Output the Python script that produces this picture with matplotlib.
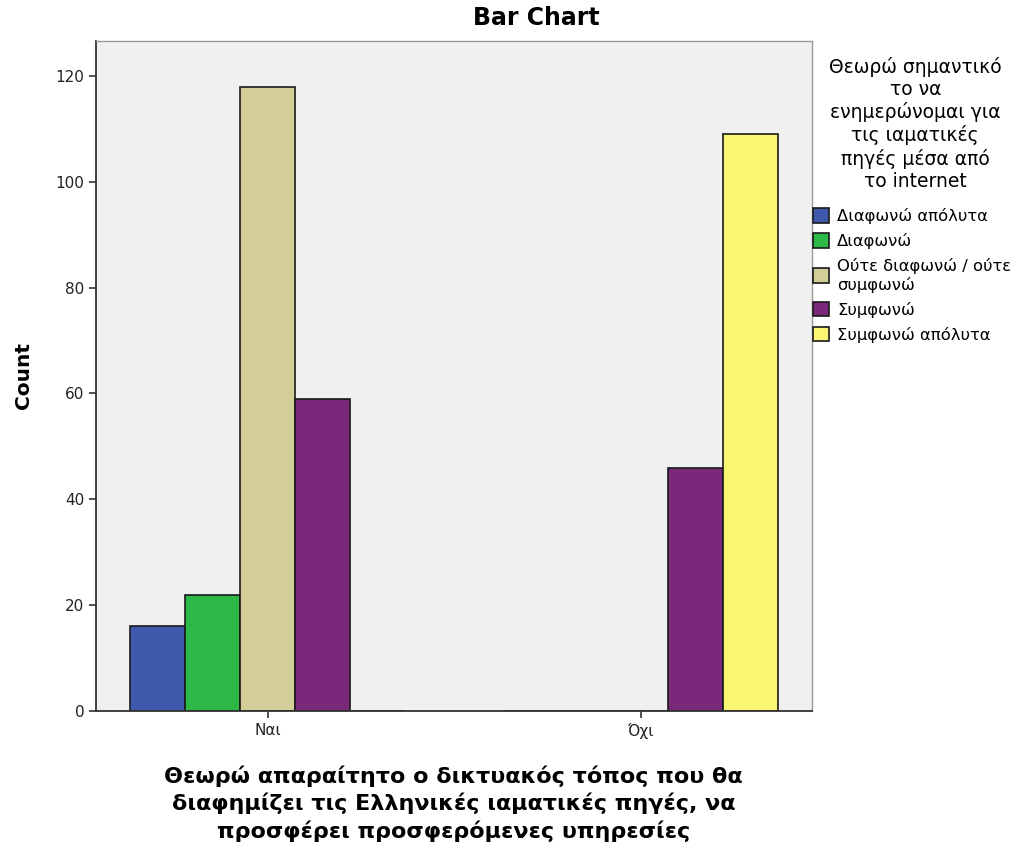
import numpy as np
import matplotlib.pyplot as plt
from matplotlib.patches import Patch

plt.rcParams['font.family'] = ['DejaVu Sans']

# categories on the x axis
groups = ['Ναι', 'Όχι']
# legend categories (one bar per category inside each group)
answers = ['Διαφωνώ απόλυτα', 'Διαφωνώ', 'Ούτε διαφωνώ / ούτε\nσυμφωνώ',
           'Συμφωνώ', 'Συμφωνώ απόλυτα']
colors = ['#3E58AC', '#2EB848', '#D3CE97', '#7A287A', '#F9F671']
# counts per answer, for [Ναι, Όχι]
diafono_apoluta = [16, 0]
diafono = [22, 0]
oute = [118, 0]
symfono = [59, 46]
symfono_apoluta = [0, 109]
counts = [diafono_apoluta, diafono, oute, symfono, symfono_apoluta]

fig = plt.figure(figsize=(10.17, 8.47), dpi=100)
ax = fig.add_axes([0.0944, 0.1606, 0.7036, 0.791])
ax.set_facecolor('#F0F0F0')

index = np.arange(len(groups))
bar_width = 0.1475
for i, (vals, col) in enumerate(zip(counts, colors)):
    x = index + (i - 2) * bar_width
    ax.bar(x, vals, bar_width, color=col, edgecolor='#1a1a1a', linewidth=1.2)

ax.set_xlim(-0.461, 1.458)
ax.set_ylim(0, 126.6)
ax.set_yticks(np.arange(0, 121, 20))
ax.set_xticks(index)
ax.set_xticklabels(groups)
ax.tick_params(axis='both', labelsize=11, color='#333333', length=5, width=1.2,
               labelcolor='#222222')
for side in ['left', 'bottom']:
    ax.spines[side].set_color('#333333')
    ax.spines[side].set_linewidth(1.3)
for side in ['top', 'right']:
    ax.spines[side].set_color('#9a9a9a')
    ax.spines[side].set_linewidth(1.0)

fig.text(0.527, 0.979, 'Bar Chart', fontsize=17, fontweight='bold',
         ha='center', va='center')
ax.set_ylabel('Count', fontsize=14.5, fontweight='bold', labelpad=16)
ax.set_xlabel('Θεωρώ απαραίτητο ο δικτυακός τόπος που θα\n'
              'διαφημίζει τις Ελληνικές ιαματικές πηγές, να\n'
              'προσφέρει προσφερόμενες υπηρεσίες',
              fontsize=16, fontweight='bold', labelpad=19, linespacing=1.35)

# legend title as separate text, legend entries below it
fig.text(0.9, 1 - 57 / 847,
         'Θεωρώ σημαντικό\nτο να\nενημερώνομαι για\nτις ιαματικές\n'
         'πηγές μέσα από\nτο internet',
         fontsize=13.5, ha='center', va='top', linespacing=1.2,
         multialignment='center')
handles = [Patch(facecolor=c, edgecolor='#1a1a1a', linewidth=1.2) for c in colors]
leg = fig.legend(handles, answers,
                 loc='upper left', bbox_to_anchor=(0.799, 1 - 208 / 847),
                 frameon=False, fontsize=11.8,
                 handlelength=1.0, handleheight=1.0, handletextpad=0.5,
                 labelspacing=0.55, borderaxespad=0, borderpad=0)

fig.savefig('out.png', dpi=100)
